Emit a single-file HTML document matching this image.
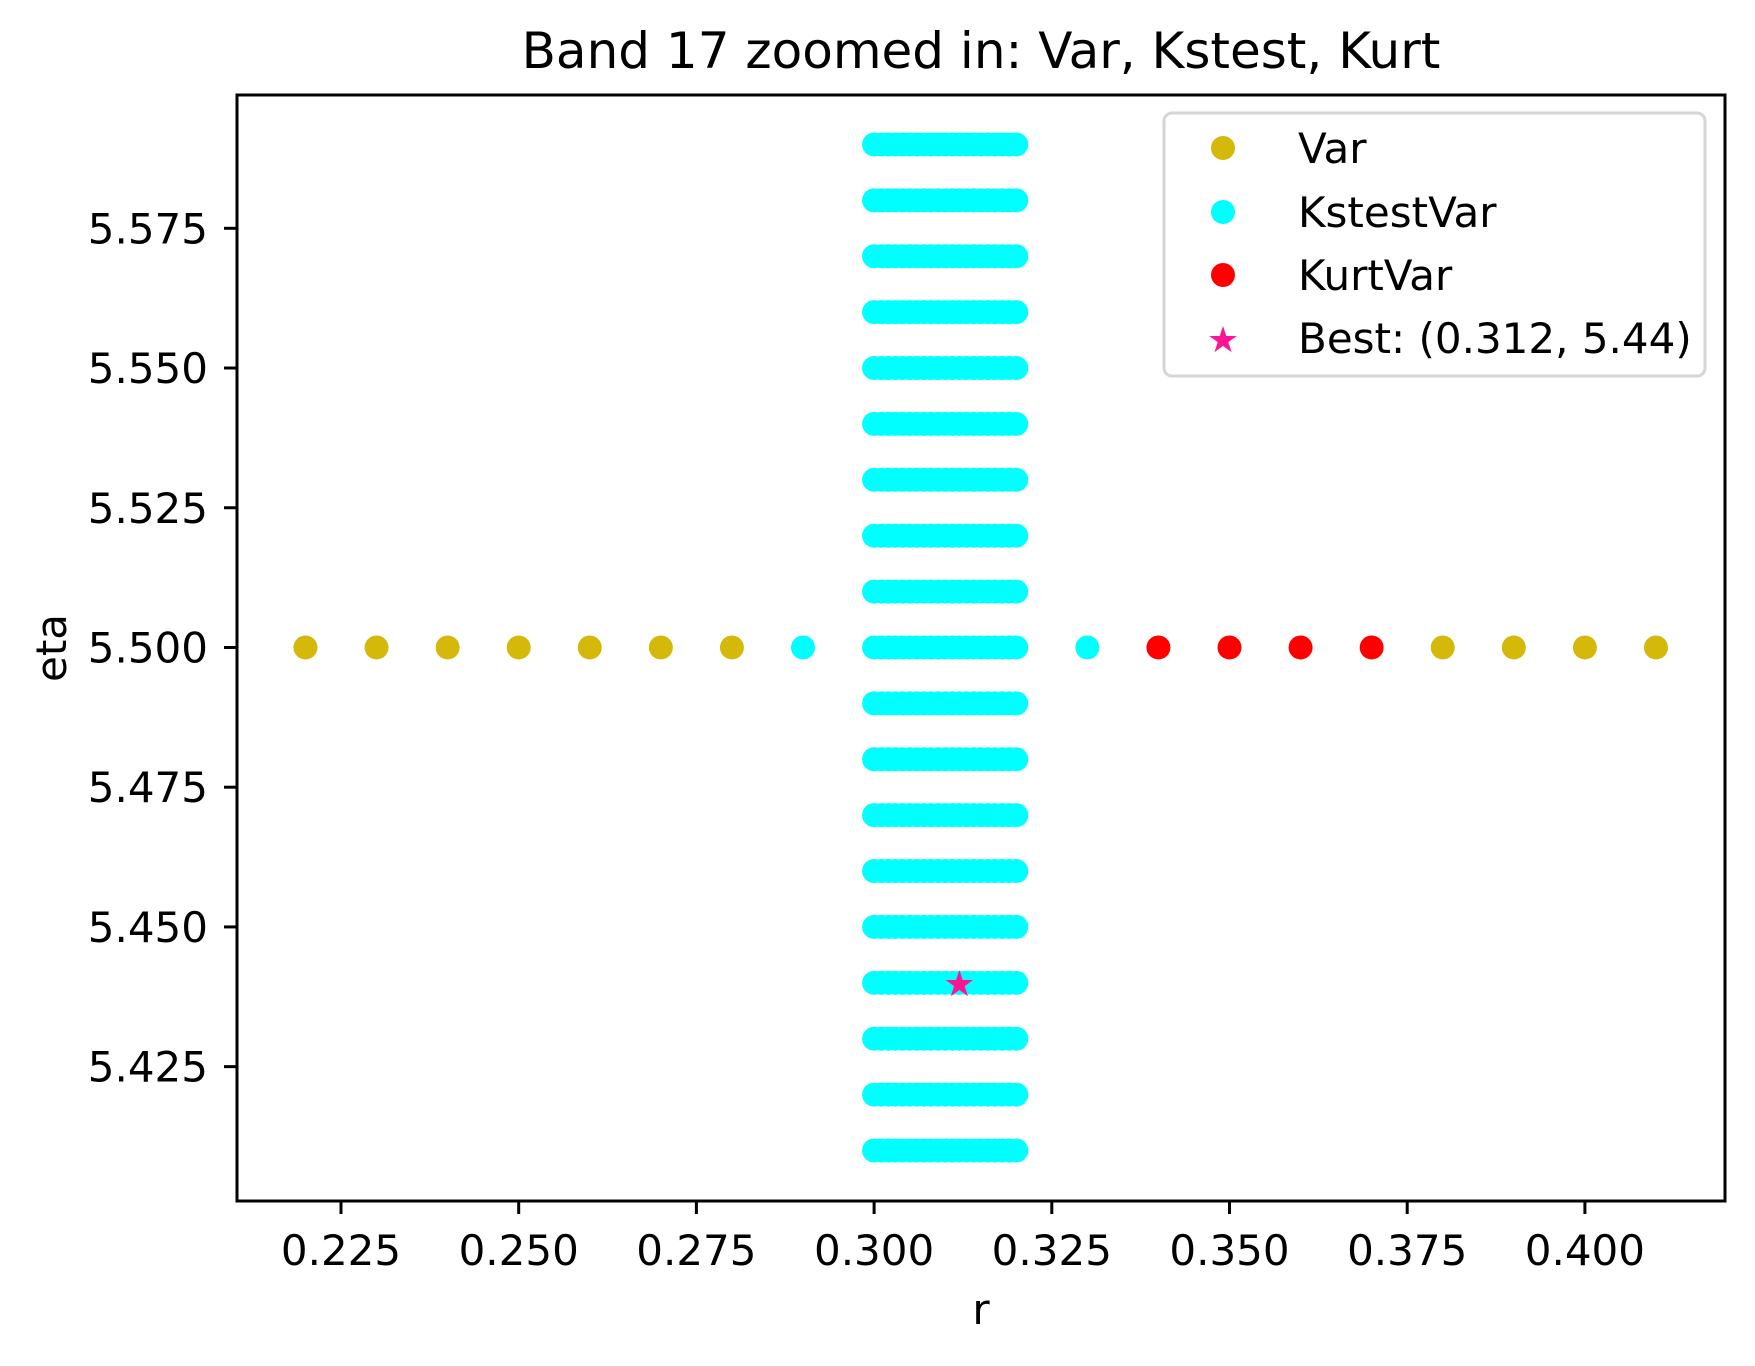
<!DOCTYPE html>
<html><head><meta charset="utf-8"><style>
html,body{margin:0;padding:0;background:#fff}
svg text{font-family:"DejaVu Sans","Liberation Sans",sans-serif;fill:#000}
</style></head><body>
<svg id="chart" width="1755" height="1361" viewBox="0 0 1755 1361" xmlns="http://www.w3.org/2000/svg">
<rect width="1755" height="1361" fill="#fff"/>
<text x="981" y="68" font-size="50" text-anchor="middle">Band 17 zoomed in: Var, Kstest, Kurt</text>
<g id="marks"></g>
<rect x="237" y="95" width="1488" height="1106" fill="none" stroke="#000" stroke-width="3"/>
<g id="axes"></g>
<text x="981" y="1324" font-size="42" text-anchor="middle">r</text>
<text transform="translate(66,648) rotate(-90)" font-size="42" text-anchor="middle">eta</text>
<g>
<rect x="1164" y="113" width="541" height="263" rx="8" fill="#fff" fill-opacity="0.8" stroke="#d5d5d5" stroke-width="3"/>
<circle cx="1223" cy="148" r="12" fill="#d4b80a"/>
<text x="1298" y="163" font-size="42">Var</text>
<circle cx="1223" cy="212" r="12" fill="#00ffff"/>
<text x="1298" y="227" font-size="42">KstestVar</text>
<circle cx="1223" cy="275" r="12" fill="#ff0000"/>
<text x="1298" y="290" font-size="42">KurtVar</text>
<text x="1223" y="352" font-size="36" text-anchor="middle" style="fill:#ff1493">★</text>
<text x="1298" y="353" font-size="42">Best: (0.312, 5.44)</text>
</g>
</svg>
<script>
const xTicks=[0.225,0.250,0.275,0.300,0.325,0.350,0.375,0.400];
const xTickLabels=["0.225","0.250","0.275","0.300","0.325","0.350","0.375","0.400"];
const yTicks=[5.425,5.450,5.475,5.500,5.525,5.550,5.575];
const yTickLabels=["5.425","5.450","5.475","5.500","5.525","5.550","5.575"];
const varR=[0.22,0.23,0.24,0.25,0.26,0.27,0.28,0.38,0.39,0.40,0.41];
const varEta=[5.5,5.5,5.5,5.5,5.5,5.5,5.5,5.5,5.5,5.5,5.5];
const kurtR=[0.34,0.35,0.36,0.37];
const kurtEta=[5.5,5.5,5.5,5.5];
const kstestExtraR=[0.29,0.33];
const kstestExtraEta=[5.5,5.5];
const kstestGridR=[0.300,0.301,0.302,0.303,0.304,0.305,0.306,0.307,0.308,0.309,0.310,0.311,0.312,0.313,0.314,0.315,0.316,0.317,0.318,0.319,0.320];
const kstestGridEta=[5.41,5.42,5.43,5.44,5.45,5.46,5.47,5.48,5.49,5.50,5.51,5.52,5.53,5.54,5.55,5.56,5.57,5.58,5.59];
const bestR=[0.312];
const bestEta=[5.44];

const X=r=>341+(r-0.225)*7108;
const Y=e=>228.3+(5.575-e)*5589;
const NS="http://www.w3.org/2000/svg";
const marks=document.getElementById('marks');
const axes=document.getElementById('axes');
function dot(r,e,color,name){
  const c=document.createElementNS(NS,'circle');
  c.setAttribute('cx',X(r));c.setAttribute('cy',Y(e));c.setAttribute('r',12);c.setAttribute('fill',color);
  
  
  marks.appendChild(c);
}
varR.forEach((r,i)=>dot(r,varEta[i],'#d4b80a','var-point'));
kstestGridEta.forEach(e=>kstestGridR.forEach(r=>dot(r,e,'#00ffff','kstest-point')));
kstestExtraR.forEach((r,i)=>dot(r,kstestExtraEta[i],'#00ffff','kstest-point'));
kurtR.forEach((r,i)=>dot(r,kurtEta[i],'#ff0000','kurt-point'));
bestR.forEach((r,i)=>{
  const t=document.createElementNS(NS,'text');
  t.setAttribute('x',X(r));t.setAttribute('y',Y(bestEta[i])+13);
  t.setAttribute('font-size','36');t.setAttribute('text-anchor','middle');t.setAttribute('style','fill:#ff1493');
  t.textContent='★';
  
  
  marks.appendChild(t);
});
xTicks.forEach((v,i)=>{
  const l=document.createElementNS(NS,'line');
  l.setAttribute('x1',X(v));l.setAttribute('x2',X(v));l.setAttribute('y1',1201);l.setAttribute('y2',1214);
  l.setAttribute('stroke','#000');l.setAttribute('stroke-width','3');
  
  
  axes.appendChild(l);
  const t=document.createElementNS(NS,'text');
  t.setAttribute('x',X(v));t.setAttribute('y',1265);t.setAttribute('font-size','42');t.setAttribute('text-anchor','middle');
  t.textContent=xTickLabels[i];
  
  
  axes.appendChild(t);
});
yTicks.forEach((v,i)=>{
  const l=document.createElementNS(NS,'line');
  l.setAttribute('x1',224);l.setAttribute('x2',237);l.setAttribute('y1',Y(v));l.setAttribute('y2',Y(v));
  l.setAttribute('stroke','#000');l.setAttribute('stroke-width','3');
  
  
  axes.appendChild(l);
  const t=document.createElementNS(NS,'text');
  t.setAttribute('x',208);t.setAttribute('y',Y(v)+15);t.setAttribute('font-size','42');t.setAttribute('text-anchor','end');
  t.textContent=yTickLabels[i];
  
  
  axes.appendChild(t);
});
</script>
</body></html>
